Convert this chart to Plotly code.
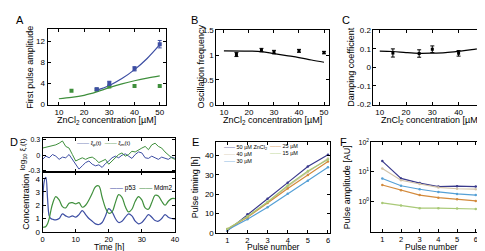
import plotly.graph_objects as go

W, H = 485, 251
FONT = "Liberation Sans"

# ---------------- data ----------------
# Panel A
conc_a_blue = [25, 30, 40, 50]
amp_a_blue = [2.9, 4.0, 6.75, 11.4]
err_a_blue = [0.2, 0.4, 0.4, 0.7]
conc_a_green = [15, 25, 30, 40, 50]
amp_a_green = [2.6, 2.8, 3.4, 3.5, 3.5]
model_a_blue_x = [25, 30, 35, 40, 45, 50]
model_a_blue_y = [2.7, 3.6, 4.9, 6.6, 8.7, 11.3]
model_a_green_x = [10, 15, 20, 25, 30, 35, 40, 45, 50]
model_a_green_y = [1.1, 1.35, 1.75, 2.4, 3.2, 3.9, 4.5, 5.0, 5.4]

# Panel B
conc_b = [15, 25, 30, 40, 50]
freq_b = [1.01, 1.10, 1.06, 1.085, 1.05]
err_b = [0.04, 0.035, 0.035, 0.03, 0.025]
model_b_x = [10, 20, 25, 30, 35, 40, 45, 50]
model_b_y = [1.085, 1.08, 1.07, 1.03, 0.99, 0.95, 0.90, 0.855]

# Panel C
conc_c = [15, 25, 30, 40, 50]
damp_c = [0.078, 0.075, 0.098, 0.076, 0.054]
err_c = [0.022, 0.02, 0.018, 0.015, 0.012]
model_c_x = [10, 15, 20, 25, 30, 35, 40, 45, 50]
model_c_y = [0.088, 0.086, 0.080, 0.076, 0.077, 0.080, 0.087, 0.096, 0.108]

# Panel D (top): noise terms
time_xi = list(range(0, 41))
xi_p = [-0.082, -0.019, -0.051, 0.013, -0.019, -0.082, -0.038, -0.051, 0.013, -0.082,
        -0.177, -0.272, -0.208, -0.145, -0.114, -0.177, -0.208, -0.189, -0.240, -0.164,
        -0.114, -0.051, -0.019, -0.051, 0.0, 0.025, -0.019, -0.063, 0.013, 0.063,
        0.044, -0.051, -0.063, -0.019, -0.051, -0.082, -0.038, -0.063, -0.082, -0.038, -0.063]
xi_m = [0.139, 0.152, 0.171, 0.189, 0.202, 0.234, 0.278, 0.171, 0.139, 0.013,
        -0.114, -0.082, -0.051, -0.082, -0.051, -0.038, -0.082, -0.145, -0.114, -0.082,
        -0.177, -0.114, -0.051, 0.013, 0.044, -0.019, 0.013, 0.076, 0.063, 0.107,
        0.139, 0.171, 0.107, 0.202, 0.234, 0.171, 0.139, 0.063, 0.013, -0.051, -0.082]

# Panel D (bottom): concentrations
time_d = [0, 0.5, 1, 1.5, 2, 2.5, 3, 4, 5, 6, 7, 8, 9, 10, 11, 12, 13, 14, 15, 16, 17,
          18, 19, 20, 21, 22, 23, 24, 25, 26, 27, 28, 29, 30, 31, 32, 33, 34, 35, 36,
          37, 38, 39, 40]
p53 = [1.4, 3.8, 4.1, 2.5, 1.2, 1.0, 0.95, 0.9, 1.0, 1.35, 1.2, 1.1, 1.2, 1.1, 1.3, 1.6,
       1.3, 1.0, 0.8, 0.6, 0.55, 0.7, 1.2, 1.75, 1.5, 1.0, 0.7, 0.8, 1.1, 1.35, 1.2, 0.8,
       0.6, 0.7, 1.0, 1.3, 1.1, 0.85, 0.8, 1.0, 1.3, 1.1, 1.0, 0.95]
mdm2 = [0.35, 0.35, 0.4, 0.6, 1.0, 1.6, 2.1, 2.65, 2.4, 1.9, 1.8, 2.15, 2.2, 2.1, 2.2,
        1.85, 2.0, 2.4, 2.9, 3.4, 3.45, 2.6, 1.8, 1.4, 1.5, 2.2, 2.8, 2.6, 1.9, 1.5, 1.7,
        2.3, 2.65, 2.4, 1.8, 1.7, 2.2, 2.75, 2.7, 2.3, 2.0, 2.3, 2.5, 2.5]

# Panel E / F
pulse_number = [1, 2, 3, 4, 5, 6]
series_names = ["50 µM ZnCl<sub>2</sub>", "40 µM", "30 µM", "25 µM", "15 µM"]
timing = {
    "50": [1.0, 9.6, 17.7, 26.0, 34.4, 40.5],
    "40": [1.5, 8.5, 16.0, 24.0, 31.5, 38.5],
    "30": [1.5, 7.0, 13.3, 20.3, 27.0, 34.0],
    "25": [2.0, 8.0, 15.5, 23.0, 30.0, 37.0],
    "15": [2.0, 8.5, 16.0, 24.5, 32.0, 38.0],
}
amplitude = {
    "50": [23, 6.0, 4.2, 3.2, 3.3, 3.2],
    "40": [13, 5.2, 3.9, 3.0, 2.7, 2.6],
    "30": [6.0, 3.4, 2.6, 2.1, 1.8, 1.65],
    "25": [3.6, 2.4, 1.65, 1.35, 1.2, 1.05],
    "15": [0.9, 0.74, 0.6, 0.6, 0.58, 0.56],
}
series_keys = ["50", "40", "30", "25", "15"]
series_colors = {"50": "#3a3a8c", "40": "#d2c3a8", "30": "#55a0d6",
                 "25": "#d38a3c", "15": "#a9c977"}

BLUE = "#3d4ea3"
GREEN = "#3f8f3c"

# ---------------- helpers ----------------
def px_x(x):
    return x / W

def px_y(y):
    return 1 - y / H

def dom_x(a, b):
    return [px_x(a), px_x(b)]

def dom_y(top, bottom):
    return [px_y(bottom), px_y(top)]

def ax(**kw):
    d = dict(showline=True, linecolor="black", linewidth=1, mirror="ticks",
             ticks="inside", ticklen=3, tickcolor="black", tickwidth=1,
             showgrid=False, zeroline=False,
             tickfont=dict(size=8, family=FONT, color="black"))
    d.update(kw)
    return d

SMALL_TICKS = dict(size=7.5, family=FONT, color="black")

fig = go.Figure()

# ---- A ----
fig.add_trace(go.Scatter(x=model_a_green_x, y=model_a_green_y, mode="lines",
                         line=dict(color=GREEN, width=1.2, shape="spline"),
                         xaxis="x", yaxis="y", showlegend=False))
fig.add_trace(go.Scatter(x=model_a_blue_x, y=model_a_blue_y, mode="lines",
                         line=dict(color=BLUE, width=1.2, shape="spline"),
                         xaxis="x", yaxis="y", showlegend=False))
fig.add_trace(go.Scatter(x=conc_a_green, y=amp_a_green, mode="markers",
                         marker=dict(color=GREEN, size=4, symbol="square"),
                         xaxis="x", yaxis="y", showlegend=False))
fig.add_trace(go.Scatter(x=conc_a_blue, y=amp_a_blue, mode="markers",
                         marker=dict(color=BLUE, size=4, symbol="square"),
                         error_y=dict(type="data", array=err_a_blue, color=BLUE,
                                      thickness=1, width=2),
                         xaxis="x", yaxis="y", showlegend=False))

# ---- B ----
fig.add_trace(go.Scatter(x=model_b_x, y=model_b_y, mode="lines",
                         line=dict(color="black", width=1.2, shape="spline"),
                         xaxis="x2", yaxis="y2", showlegend=False))
fig.add_trace(go.Scatter(x=conc_b, y=freq_b, mode="markers",
                         marker=dict(color="black", size=3, symbol="square"),
                         error_y=dict(type="data", array=err_b, color="black",
                                      thickness=1, width=2),
                         xaxis="x2", yaxis="y2", showlegend=False))

# ---- C ----
fig.add_trace(go.Scatter(x=model_c_x, y=model_c_y, mode="lines",
                         line=dict(color="black", width=1.2, shape="spline"),
                         xaxis="x3", yaxis="y3", showlegend=False))
fig.add_trace(go.Scatter(x=conc_c, y=damp_c, mode="markers",
                         marker=dict(color="black", size=3, symbol="square"),
                         error_y=dict(type="data", array=err_c, color="black",
                                      thickness=1, width=2),
                         xaxis="x3", yaxis="y3", showlegend=False))

# ---- D top ----
fig.add_trace(go.Scatter(x=time_xi, y=xi_p, mode="lines",
                         line=dict(color=BLUE, width=1),
                         xaxis="x4", yaxis="y4", showlegend=False))
fig.add_trace(go.Scatter(x=time_xi, y=xi_m, mode="lines",
                         line=dict(color=GREEN, width=1),
                         xaxis="x4", yaxis="y4", showlegend=False))
# ---- D bottom ----
fig.add_trace(go.Scatter(x=time_d, y=p53, mode="lines",
                         line=dict(color=BLUE, width=1.2, shape="spline"),
                         xaxis="x5", yaxis="y5", showlegend=False))
fig.add_trace(go.Scatter(x=time_d, y=mdm2, mode="lines",
                         line=dict(color=GREEN, width=1.2, shape="spline"),
                         xaxis="x5", yaxis="y5", showlegend=False))

# ---- E / F ----
for k in series_keys:
    fig.add_trace(go.Scatter(x=pulse_number, y=timing[k], mode="lines+markers",
                             line=dict(color=series_colors[k], width=1.2),
                             marker=dict(color=series_colors[k], size=2.5),
                             xaxis="x6", yaxis="y6", showlegend=False))
for k in series_keys:
    fig.add_trace(go.Scatter(x=pulse_number, y=amplitude[k], mode="lines+markers",
                             line=dict(color=series_colors[k], width=1.2),
                             marker=dict(color=series_colors[k], size=2.5),
                             xaxis="x7", yaxis="y7", showlegend=False))

conc_ticks = [10, 20, 30, 40, 50]

fig.update_layout(
    width=W, height=H, margin=dict(l=0, r=0, t=0, b=0),
    paper_bgcolor="white", plot_bgcolor="white",
    font=dict(family=FONT, color="black", size=8),
    xaxis=ax(domain=dom_x(38, 158), range=[5.5, 52.5], tickvals=conc_ticks, anchor="y"),
    yaxis=ax(domain=dom_y(18, 96), range=[0, 14.2], tickvals=[0, 4, 8, 12], anchor="x"),
    xaxis2=ax(domain=dom_x(209, 323), range=[7, 52], tickvals=conc_ticks, anchor="y2"),
    yaxis2=ax(domain=dom_y(19, 96), range=[0, 1.5], tickvals=[0, 0.5, 1, 1.5],
              ticktext=["0", "0.5", "1", "1.5"], anchor="x2"),
    xaxis3=ax(domain=dom_x(368, 484), range=[7.6, 51.2], tickvals=conc_ticks, anchor="y3"),
    yaxis3=ax(domain=dom_y(19, 96), range=[-0.2, 0.2],
              tickvals=[-0.2, -0.1, 0, 0.1, 0.2],
              ticktext=["-0.2", "-0.1", "0", "0.1", "0.2"], anchor="x3"),
    xaxis4=ax(domain=dom_x(33, 167), range=[0, 40], tickvals=[0, 10, 20, 30, 40],
              showticklabels=False, anchor="y4"),
    yaxis4=ax(domain=dom_y(131, 166), range=[-0.33, 0.33], tickvals=[-0.3, 0, 0.3],
              ticktext=["-0.3", "0", "0.3"], anchor="x4",
              tickfont=dict(size=7, family=FONT, color="black")),
    xaxis5=ax(domain=dom_x(33, 167), range=[0, 40], tickvals=[0, 10, 20, 30, 40],
              anchor="y5", tickfont=SMALL_TICKS),
    yaxis5=ax(domain=dom_y(166, 228), range=[0, 4.5], tickvals=[0, 1, 2, 3, 4], anchor="x5"),
    xaxis6=ax(domain=dom_x(209, 324), range=[0.46, 6.1], tickvals=pulse_number,
              anchor="y6", tickfont=SMALL_TICKS),
    yaxis6=ax(domain=dom_y(135, 229), range=[0, 47], tickvals=[0, 10, 20, 30, 40], anchor="x6"),
    xaxis7=ax(domain=dom_x(366, 482), range=[0.42, 6.55], tickvals=pulse_number,
              anchor="y7", tickfont=SMALL_TICKS),
    yaxis7=ax(domain=dom_y(135, 228), type="log", range=[-1.02, 2.0],
              tickvals=[1, 10, 100],
              ticktext=["10<sup>0</sup>", "10<sup>1</sup>", "10<sup>2</sup>"], anchor="x7",
              tickfont=dict(size=7, family=FONT, color="black")),
)

ann = []

def text(x, y, s, size=9, angle=0, xanchor="center", yanchor="middle", align="center"):
    ann.append(dict(x=px_x(x), y=px_y(y), xref="paper", yref="paper", text=s,
                    showarrow=False, textangle=angle, xanchor=xanchor, yanchor=yanchor,
                    align=align, borderpad=0,
                    font=dict(size=size, family=FONT, color="black")))

# panel letters
for letter, x, y in [("A", 10, 8), ("B", 187, 8), ("C", 340, 8),
                     ("D", 4, 135), ("E", 188, 135), ("F", 338, 135)]:
    text(x, y, letter, size=11)

zn = "ZnCl<sub>2</sub> concentration [µM]"
text(98, 106, zn, yanchor="top")
text(20, 57, "First pulse amplitude", angle=-90)
text(193, 57, "Oscillation frequency", angle=-90)
text(266, 106, zn, yanchor="top")
text(345, 57, "Damping coefficient", angle=-90)
text(426, 106, zn, yanchor="top")
text(13, 148, "log<sub>10</sub> ξ<sub>·</sub>(t)", angle=-90, size=8)
text(16, 197, "Concentration", angle=-90)
text(100, 249.5, "Time [h]", yanchor="bottom", size=8.5)
text(188, 182, "Pulse timing [h]", angle=-90)
text(267, 249.5, "Pulse number", yanchor="bottom", size=8.5)
text(342, 182, "Pulse amplitude [AU]", angle=-90)
text(427, 249.5, "Pulse number", yanchor="bottom", size=8.5)

# legends (as text)
def sw(c):
    return "<span style='color:%s'>——</span>" % c

text(67, 136, sw(BLUE) + " ξ<sub>p</sub>(t)  " + sw(GREEN) + " ξ<sub>m</sub>(t)",
     size=6, xanchor="left")
text(100, 183, sw(BLUE) + " p53  " + sw(GREEN) + " Mdm2", size=6.5, xanchor="left")
text(216, 147, "<br>".join(sw(series_colors[k]) + " " + n
                           for k, n in zip(series_keys[:3], series_names[:3])),
     size=5.5, xanchor="left", align="left")
text(262, 143, "<br>".join(sw(series_colors[k]) + " " + n
                           for k, n in zip(series_keys[3:], series_names[3:])),
     size=5.5, xanchor="left", align="left")

fig.update_layout(annotations=ann)
fig.write_html("out.html")
